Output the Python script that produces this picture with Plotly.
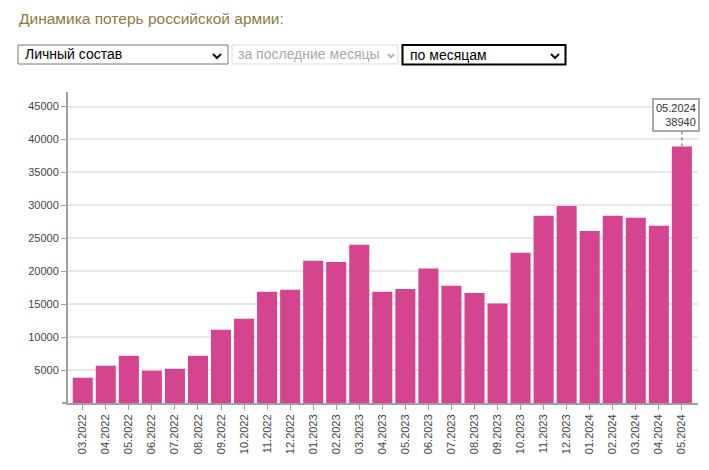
import plotly.graph_objects as go

months = ["03.2022", "04.2022", "05.2022", "06.2022", "07.2022", "08.2022", "09.2022",
          "10.2022", "11.2022", "12.2022", "01.2023", "02.2023", "03.2023", "04.2023",
          "05.2023", "06.2023", "07.2023", "08.2023", "09.2023", "10.2023", "11.2023",
          "12.2023", "01.2024", "02.2024", "03.2024", "04.2024", "05.2024"]
losses = [3840, 5660, 7180, 4900, 5200, 7180, 11100, 12800, 16900, 17200, 21600, 21400,
          24000, 16900, 17300, 20400, 17800, 16700, 15100, 22800, 28400, 29900, 26100,
          28400, 28100, 26900, 38940]
y_ticks = [5000, 10000, 15000, 20000, 25000, 30000, 35000, 40000, 45000]

title_text = "Динамика потерь российской армии:"
select_texts = ["Личный состав", "за последние месяцы", "по месяцам"]

OFF = 8  # page body margin
W, H = 701, 448
ML, MT = 68 - OFF, 92 - OFF
PW, PH = 630, 311
MR = W - ML - PW
MB = H - MT - PH


def px(x):
    return (x - OFF - ML) / PW


def py(y):
    return (MT + PH - (y - OFF)) / PH


BAR = "#d5458f"
FONT = "Liberation Sans, Arial, sans-serif"

fig = go.Figure(go.Bar(x=months, y=losses, marker=dict(color=BAR, line=dict(width=0)),
                       hoverinfo="skip"))

shapes = []
annotations = []

# title
annotations.append(dict(text=title_text, xref="paper", yref="paper", x=px(17), y=py(19),
                        xanchor="left", yanchor="middle", showarrow=False,
                        font=dict(family=FONT, size=15.5, color="#8b7b40")))

# select boxes
boxes = [
    dict(x0=18, x1=228, y0=45, y1=64, border="#767676", bw=1, text_color="#000000",
         chev=(213, 221, 54, 58), chev_color="#111111", tx=23),
    dict(x0=232, x1=398, y0=45, y1=64, border="#dcdcdc", bw=1, text_color="#a8a8a8",
         chev=(388, 394, 54, 57.5), chev_color="#b8b8b8", tx=236),
    dict(x0=402.5, x1=565.5, y0=45, y1=64.5, border="#000000", bw=2, text_color="#000000",
         chev=(551, 559, 54, 58), chev_color="#111111", tx=408),
]
for b, t in zip(boxes, select_texts):
    shapes.append(dict(type="rect", xref="paper", yref="paper",
                       x0=px(b["x0"]), x1=px(b["x1"]), y0=py(b["y0"]), y1=py(b["y1"]),
                       line=dict(color=b["border"], width=b["bw"]), fillcolor="white"))
    cx0, cx1, cy0, cy1 = b["chev"]
    cm = (cx0 + cx1) / 2
    path = "M {} {} L {} {} L {} {}".format(px(cx0), py(cy0), px(cm), py(cy1), px(cx1), py(cy0))
    shapes.append(dict(type="path", xref="paper", yref="paper", path=path,
                       line=dict(color=b["chev_color"], width=2)))
    annotations.append(dict(text=t, xref="paper", yref="paper", x=px(b["tx"]),
                            y=py((b["y0"] + b["y1"]) / 2), xanchor="left", yanchor="middle",
                            showarrow=False,
                            font=dict(family=FONT, size=14, color=b["text_color"])))

# x axis line extension to the left of y axis
shapes.append(dict(type="line", xref="paper", yref="paper", x0=px(62), x1=0, y0=0, y1=0,
                   line=dict(color="#a0a0a0", width=2)))

# tooltip for last bar (category index used for placement)
last_i = len(months) - 1
last_m, last_v = months[last_i], losses[last_i]
shapes.append(dict(type="line", xref="x", yref="y", ysizemode="pixel", yanchor=last_v,
                   x0=last_i, x1=last_i, y0=0, y1=15,
                   line=dict(color="#a0a0a0", width=2, dash="dot")))
annotations.append(dict(text="{}<br>{}".format(last_m, last_v), xref="x", yref="y",
                        x=last_i, y=last_v, yshift=14, xshift=-6,
                        xanchor="center", yanchor="bottom",
                        showarrow=False, align="right", bgcolor="white",
                        bordercolor="#a8a8a8", borderwidth=2, borderpad=2,
                        font=dict(family=FONT, size=11, color="#333333")))

fig.update_layout(
    width=W, height=H,
    margin=dict(l=ML, r=MR, t=MT, b=MB, autoexpand=False),
    paper_bgcolor="white", plot_bgcolor="white",
    showlegend=False, bargap=0.13,
    font=dict(family=FONT, size=11, color="#444444"),
    shapes=shapes, annotations=annotations,
    xaxis=dict(type="category", range=[-0.64, 26.7], tickangle=-90,
               showline=True, linecolor="#a0a0a0", linewidth=2,
               ticks="outside", ticklen=5, tickcolor="#a0a0a0", tickwidth=1,
               showgrid=False, zeroline=False, automargin=False,
               tickfont=dict(family=FONT, size=11, color="#444444")),
    yaxis=dict(range=[0, 47200], tickvals=y_ticks, ticktext=[str(v) for v in y_ticks],
               showline=True, linecolor="#a0a0a0", linewidth=2,
               ticks="outside", ticklen=5, tickcolor="#a0a0a0", tickwidth=1,
               showgrid=True, gridcolor="#e8e8e8", gridwidth=2, zeroline=False,
               automargin=False,
               tickfont=dict(family=FONT, size=11, color="#444444")),
)

fig.write_html("out.html")
